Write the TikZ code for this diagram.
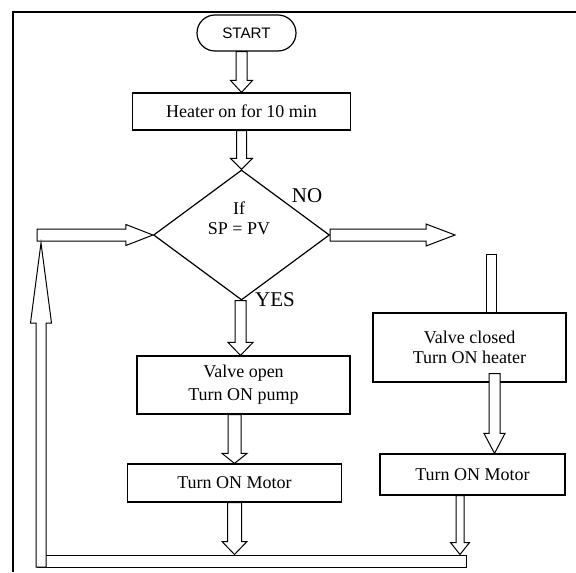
\documentclass[tikz,border=0pt]{standalone}
\usepackage{fontspec}
\setmainfont{Liberation Serif}
\newfontfamily\startfont{Liberation Sans}
\usetikzlibrary{shapes.geometric,calc}

\tikzset{
  box/.style={draw, line width=0.6pt, align=center, inner sep=0pt, font=\fontsize{9}{10}\selectfont},
  terminal/.style={draw, line width=0.6pt, rounded corners=9pt, inner sep=0pt, font=\startfont\fontsize{7.6}{9}\selectfont},
  decision/.style={draw, diamond, line width=0.6pt, inner sep=0pt, minimum width=88pt, minimum height=65pt},
  flow/.style={draw, fill=white, line width=0.5pt, line join=miter},
  answer/.style={font=\fontsize{10.5}{11}\selectfont}
}

% hollow block arrow: from, to, shaft half width, head half width, head length (in px)
\newcommand{\flowarrow}[5]{%
  \pgfmathsetlengthmacro\fashaft{#3*0.5pt}%
  \pgfmathsetlengthmacro\fahead{#4*0.5pt}%
  \pgfmathsetlengthmacro\falen{#5*0.5pt}%
  \coordinate (fa-b) at ($(#2)!\falen!(#1)$);
  \draw[flow] ($(#1)!\fashaft!90:(#2)$) -- ($(fa-b)!\fashaft!90:(#2)$) -- ($(fa-b)!\fahead!90:(#2)$) -- (#2)
    -- ($(fa-b)!\fahead!-90:(#2)$) -- ($(fa-b)!\fashaft!-90:(#2)$) -- ($(#1)!\fashaft!-90:(#2)$) -- cycle;
}

\begin{document}
\begin{tikzpicture}[x=0.5pt, y=-0.5pt]
                \useasboundingbox (0, 0) rectangle (576, 572);

                \draw[line width=1pt] (13, 572) -- (13, 12.5) -- (576, 12.5);

                \node[terminal, minimum width=49.5pt, minimum height=18pt] (start) at (246.5, 33) {START};

                \node[box, minimum width=109pt, minimum height=18.5pt] (heat) at (241.5, 111.5) {Heater on for 10 min};

                \node[decision, label={[align=center, font=\fontsize{9}{10}\selectfont, xshift=-1.25pt, yshift=8.5pt]center:If\\SP = PV}] (dec) at (241.5, 235) {};

                \node[answer] (no) at (307, 196) {NO};

                \node[answer] (yes) at (275, 300) {YES};

                \node[box, minimum width=106.5pt, minimum height=29pt, font=\fontsize{9}{11.5}\selectfont] (valveo) at (243.5, 385) {Valve open\\Turn ON pump};

                \node[box, minimum width=96.5pt, minimum height=34.5pt] (valvec) at (469.5, 347.5) {Valve closed\\Turn ON heater};

                \node[box, minimum width=107pt, minimum height=19pt] (motorl) at (234.5, 483) {Turn ON Motor};

                \node[box, minimum width=92.5pt, minimum height=20.5pt] (motorr) at (472.5, 474.5) {Turn ON Motor};

                \node[draw, line width=0.5pt, inner sep=0pt, minimum width=214.5pt, minimum height=6pt] (bar) at (251.5, 561) {};

                \coordinate (loopin) at (37, 235);
                \coordinate (noend) at (455, 235);
                \coordinate (stubtop) at (491, 254);
                \coordinate (upfoot) at (41, 567);
                \coordinate (uptip) at (41, 243);
                \coordinate (v2m) at ([xshift=12.5pt]valvec.south);
                \coordinate (m2b) at ([xshift=-6.25pt]motorr.south);

                \flowarrow{[xshift=-2.5pt]start.south}{heat.north}{5.5}{11}{12}

                \flowarrow{heat.south}{dec.north}{5}{11}{11}

                \flowarrow{[xshift=-0.5pt]dec.south}{[xshift=-1.5pt]valveo.north}{5.5}{12.5}{13}

                \flowarrow{loopin}{dec.west}{6}{10.5}{27}

                \flowarrow{dec.east}{noend}{6}{11}{29}

                \draw[flow] ([xshift=-2.5pt]stubtop) rectangle ([xshift=2.5pt]stubtop |- valvec.north);

                \flowarrow{[xshift=-4.5pt]valveo.south}{motorl.north}{6.5}{12.5}{10}

                \flowarrow{motorl.south}{motorl.south |- bar.north}{7}{12.5}{13}

                \flowarrow{[yshift=4.5pt]v2m}{v2m |- motorr.north}{5.5}{10.5}{20}

                \flowarrow{m2b}{m2b |- bar.north}{4}{9.5}{12}

                \flowarrow{upfoot}{uptip}{5}{10.5}{80}
            \end{tikzpicture}
\end{document}
